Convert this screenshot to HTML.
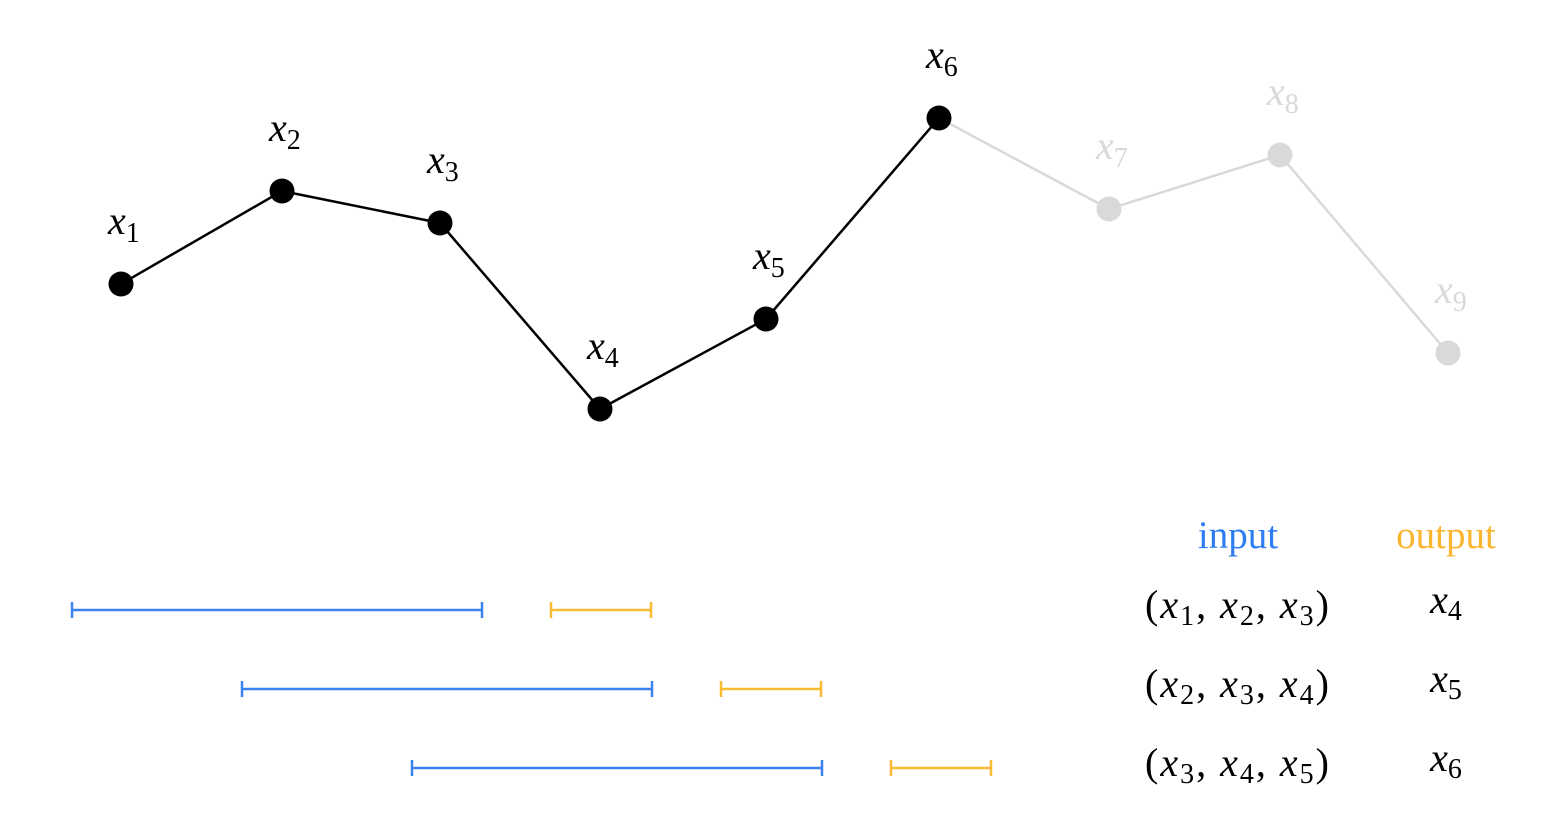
<!DOCTYPE html>
<html><head><meta charset="utf-8"><style>
html,body{margin:0;padding:0;background:#fff;}
svg{display:block;}
.m{font-family:"Liberation Serif",serif;font-style:italic;}
.r{font-family:"Liberation Serif",serif;}
</style></head><body>
<svg id="chart" width="1552" height="814" viewBox="0 0 1552 814" xmlns="http://www.w3.org/2000/svg"></svg>
<script>
const labels = ["1","2","3","4","5","6","7","8","9"];
const times = [0, 161, 319, 479, 645, 818, 988, 1159, 1327];
const values = [176, 269, 237, 51, 141, 342, 251, 305, 107];
const activeCount = 6;
const windows = [[1,2,3,4],[2,3,4,5],[3,4,5,6]];

const NS = "http://www.w3.org/2000/svg";
const svg = document.getElementById("chart");
function xScale(t){ return 121 + t; }
function yScale(v){ return 460 - v; }
function mk(tag, attrs, parent){
  const e = document.createElementNS(NS, tag);
  for (const k in attrs) e.setAttribute(k, attrs[k]);
  (parent||svg).appendChild(e);
  return e;
}
const grey = "#d9d9d9";
for (let i=0;i<values.length-1;i++){
  const c = (i+1 < activeCount) ? "#000" : grey;
  const l = mk("line",{x1:xScale(times[i]),y1:yScale(values[i]),x2:xScale(times[i+1]),y2:yScale(values[i+1]),stroke:c,"stroke-width":2.5});
  
  
}
for (let i=0;i<values.length;i++){
  const c = i < activeCount ? "#000" : grey;
  const p = mk("circle",{cx:xScale(times[i]),cy:yScale(values[i]),r:12.5,fill:c});
  
  
  const t = mk("text",{x:xScale(times[i])-13,y:yScale(values[i])-50,"font-size":40,fill:c,class:"m"});
  
  
  t.innerHTML = 'x<tspan class="r" font-style="normal" font-size="28" dy="8">' + labels[i] + '</tspan>';
}
const blue = "#3b82ec", orange = "#f8bb35";
function bar(x1,x2,y,c,name){
  const g = mk("g",{});
  
  
  mk("line",{x1:x1,y1:y,x2:x2,y2:y,stroke:c,"stroke-width":2.5},g);
  mk("line",{x1:x1,y1:y-8,x2:x1,y2:y+8,stroke:c,"stroke-width":2.5},g);
  mk("line",{x1:x2,y1:y-8,x2:x2,y2:y+8,stroke:c,"stroke-width":2.5},g);
}
function bx(k){ return 72 + (k-1)*170; }
const rowY = [610, 689, 768];
windows.forEach((w,r)=>{
  bar(bx(w[0]), bx(w[0])+410, rowY[r], blue, 'input-window-' + (r+1));
  bar(bx(w[0])+479, bx(w[0])+579, rowY[r], orange, 'output-window-' + (r+1));
  const t = mk("text",{x:1238,y:rowY[r]+8,"text-anchor":"middle","font-size":40,class:"m","letter-spacing":"2"});
  
  
  const sub = n => 'x<tspan font-style="normal" font-size="28" dy="7">' + n + '</tspan><tspan dy="-7" font-style="normal">, </tspan>';
  t.innerHTML = '<tspan font-style="normal">(</tspan>' + sub(w[0]) + sub(w[1]) + 'x<tspan font-style="normal" font-size="28" dy="7">' + w[2] + '</tspan><tspan dy="-7" font-style="normal">)</tspan>';
  const o = mk("text",{x:1446,y:rowY[r]+3,"text-anchor":"middle","font-size":40,class:"m"});
  
  
  o.innerHTML = 'x<tspan font-style="normal" font-size="28" dy="7">' + w[3] + '</tspan>';
});
const h1 = mk("text",{x:1238,y:548,"text-anchor":"middle","font-size":39,fill:"#2e7df2",class:"r"});


h1.textContent = "input";
const h2 = mk("text",{x:1446,y:548,"text-anchor":"middle","font-size":39,fill:"#fbb52f",class:"r"});


h2.textContent = "output";
</script>
</body></html>
